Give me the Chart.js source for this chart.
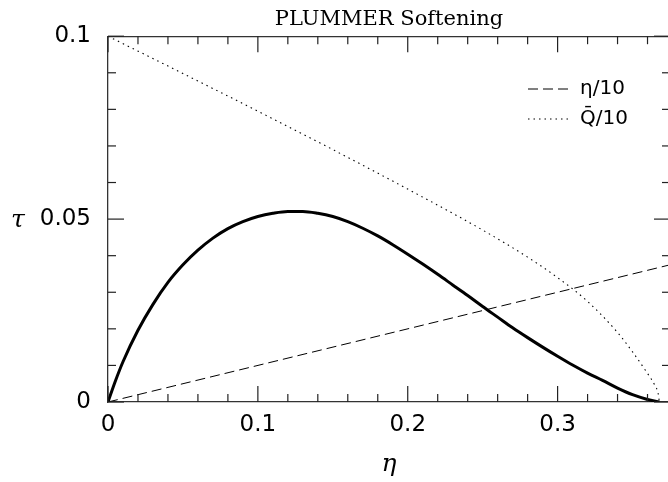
<!DOCTYPE html>
<html>
<head>
<meta charset="utf-8">
<script src="https://cdn.jsdelivr.net/npm/chart.js@4/dist/chart.umd.min.js"></script>
<style>
  html, body { margin: 0; padding: 0; background: #fff; overflow: hidden; }
  #wrap { width: 690px; height: 482px; }
</style>
</head>
<body>
<div id="wrap"><canvas id="c" width="690" height="482"></canvas></div>
<script>
// ---- data ----
const etaMain = [0, 0.005, 0.01, 0.02, 0.03, 0.04, 0.05, 0.06, 0.07, 0.08, 0.09, 0.10, 0.11, 0.12, 0.13, 0.14, 0.15, 0.16, 0.17, 0.18, 0.19, 0.20, 0.21, 0.22, 0.23, 0.24, 0.25, 0.26, 0.27, 0.28, 0.29, 0.30, 0.31, 0.32, 0.33, 0.34, 0.35, 0.36, 0.3679];
const tauMain = [0, 0.0058, 0.0110, 0.0196, 0.0267, 0.0327, 0.0375, 0.0415, 0.0448, 0.0474, 0.0493, 0.0507, 0.0516, 0.0521, 0.0521, 0.0516, 0.0507, 0.0493, 0.0475, 0.0454, 0.0430, 0.0404, 0.0377, 0.0349, 0.0320, 0.0291, 0.0261, 0.0232, 0.0203, 0.0176, 0.0150, 0.0125, 0.0101, 0.0079, 0.0059, 0.0038, 0.0020, 0.0007, 0];

const etaLine = [0, 0.375];
const etaOver10 = [0, 0.0375];

const etaQ = [0, 0.05, 0.10, 0.15, 0.20, 0.25, 0.28, 0.30, 0.32, 0.34, 0.35, 0.36, 0.365, 0.367, 0.3679];
const qBarOver10 = [0.1, 0.0898, 0.0795, 0.0690, 0.0582, 0.0470, 0.0396, 0.0340, 0.0275, 0.0190, 0.0137, 0.0078, 0.0045, 0.0025, 0];

const xTickLabels = ['0', '0.1', '0.2', '0.3'];
const yTickLabels = ['0', '0.05', '0.1'];
const xMinorTicks = [0.02, 0.04, 0.06, 0.08, 0.12, 0.14, 0.16, 0.18, 0.22, 0.24, 0.26, 0.28, 0.32, 0.34, 0.36];
const xMajorTicks = [0, 0.1, 0.2, 0.3];
const yMinorTicks = [0.01, 0.02, 0.03, 0.04, 0.06, 0.07, 0.08, 0.09];
const yMajorTicks = [0, 0.05, 0.1];

const seriesLabels = ['τ', 'η/10', 'Q̄/10'];
const chartTitle = 'PLUMMER Softening';
const xTitle = 'η';
const yTitle = 'τ';

const pts = (xs, ys) => xs.map((v, i) => ({ x: v, y: ys[i] }));

const innerTicks = {
  id: 'innerTicks',
  afterDatasetsDraw(chart) {
    const { ctx, chartArea: { left, right, top, bottom }, scales: { x, y } } = chart;
    ctx.save();
    ctx.strokeStyle = '#222';
    ctx.lineWidth = 1.2;
    const seg = (x1, y1, x2, y2) => { ctx.beginPath(); ctx.moveTo(x1, y1); ctx.lineTo(x2, y2); ctx.stroke(); };
    const xt = (v, len) => { const p = x.getPixelForValue(v); seg(p, bottom, p, bottom - len); seg(p, top, p, top + len); };
    const yt = (v, len) => { const p = y.getPixelForValue(v); seg(left, p, left + len, p); seg(right, p, right - len, p); };
    xMinorTicks.forEach(v => xt(v, 8));
    xMajorTicks.forEach(v => xt(v, 16));
    yMinorTicks.forEach(v => yt(v, 8));
    yMajorTicks.forEach(v => yt(v, 16));
    // y axis label, placed level with the 0.05 tick
    ctx.fillStyle = '#000';
    ctx.font = 'italic 25px "DejaVu Serif"';
    ctx.textAlign = 'center';
    ctx.textBaseline = 'middle';
    ctx.fillText(yTitle, 18, y.getPixelForValue(0.05) + 1);
    ctx.restore();
  }
};

const moveLegend = {
  id: 'moveLegend',
  afterLayout(chart) {
    const lg = chart.legend;
    if (lg) { lg.left = 518; lg.top = 69; }
  }
};

new Chart(document.getElementById('c'), {
  type: 'line',
  data: {
    datasets: [
      { label: seriesLabels[0], data: pts(etaMain, tauMain), borderColor: '#000', borderWidth: 3,
        pointRadius: 0, cubicInterpolationMode: 'monotone', fill: false },
      { label: seriesLabels[1], data: pts(etaLine, etaOver10), borderColor: '#000', borderWidth: 1,
        borderDash: [10, 5], pointRadius: 0, fill: false },
      { label: seriesLabels[2], data: pts(etaQ, qBarOver10), borderColor: '#000', borderWidth: 1.1,
        borderDash: [1.5, 4], pointRadius: 0, cubicInterpolationMode: 'monotone', fill: false }
    ]
  },
  options: {
    responsive: false,
    animation: false,
    layout: { padding: 0 },
    scales: {
      x: {
        type: 'linear', position: 'bottom', min: 0, max: 0.375,
        grid: { display: false, drawTicks: false },
        border: { display: true, color: '#333', width: 1.3 },
        ticks: { stepSize: 0.1, includeBounds: false, autoSkip: false, maxRotation: 0,
          padding: 9, color: '#000', font: { family: 'DejaVu Sans', size: 23 },
          callback: (v, i) => xTickLabels[i] },
        title: { display: true, text: xTitle, color: '#000',
          font: { family: 'DejaVu Serif', style: 'italic', size: 25 }, padding: { top: 0, bottom: 3 } },
        afterFit: s => { s.height = 80; }
      },
      x2: {
        type: 'linear', position: 'top', min: 0, max: 0.375,
        grid: { display: false, drawTicks: false },
        border: { display: true, color: '#333', width: 1.3 },
        ticks: { display: false },
        afterFit: s => { s.height = 4; }
      },
      y: {
        type: 'linear', position: 'left', min: 0, max: 0.1,
        grid: { display: false, drawTicks: false },
        border: { display: true, color: '#333', width: 1.3 },
        ticks: { stepSize: 0.05, includeBounds: false, autoSkip: false, padding: 17,
          color: '#000', font: { family: 'DejaVu Sans', size: 23 },
          callback: (v, i) => yTickLabels[i] },
        afterFit: s => { s.width = 108; }
      },
      y2: {
        type: 'linear', position: 'right', min: 0, max: 0.1,
        grid: { display: false, drawTicks: false },
        border: { display: true, color: '#333', width: 1.3 },
        ticks: { display: false },
        afterFit: s => { s.width = 20; }
      }
    },
    plugins: {
      title: { display: true, text: chartTitle, color: '#000', fullSize: false,
        font: { family: 'DejaVu Serif', size: 21, weight: 'normal', lineHeight: 1.2 },
        padding: { top: 7, bottom: 0 } },
      legend: {
        position: 'chartArea',
        align: 'start',
        labels: {
          filter: item => item.datasetIndex !== 0,
          generateLabels: chart => {
            const items = Chart.defaults.plugins.legend.labels.generateLabels(chart);
            items.forEach(it => {
              const ds = chart.data.datasets[it.datasetIndex];
              it.lineDash = ds.borderDash || [];
              it.lineWidth = ds.borderWidth;
              it.strokeStyle = ds.borderColor;
              it.fillStyle = 'rgba(0,0,0,0)';
            });
            return items;
          },
          usePointStyle: true, pointStyle: 'line', pointStyleWidth: 42,
          padding: 10, color: '#000',
          font: { family: 'DejaVu Sans', size: 20 }
        }
      },
      tooltip: { enabled: false }
    }
  },
  plugins: [innerTicks, moveLegend]
});
</script>
</body>
</html>
